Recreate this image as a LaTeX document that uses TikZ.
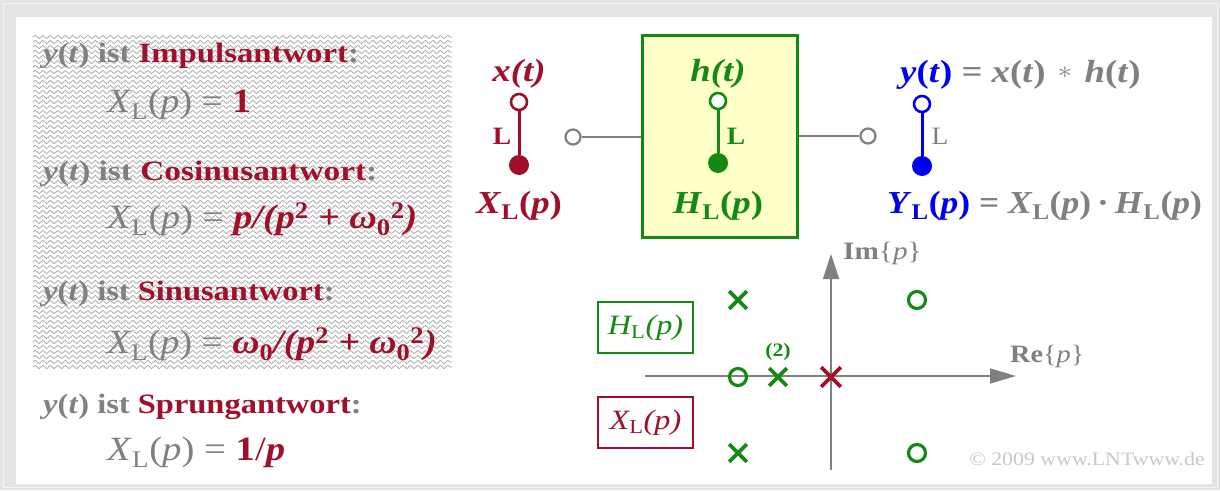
\documentclass[tikz,border=0pt]{standalone}
\usepackage{fontspec}
\setmainfont{Liberation Serif}
\usetikzlibrary{decorations.pathmorphing,arrows.meta,shapes.misc}
\definecolor{lred}{HTML}{A0102A}
\definecolor{lgray}{HTML}{808080}
\definecolor{lgreen}{HTML}{148A14}
\definecolor{lblue}{HTML}{0000F0}
\definecolor{lyellow}{HTML}{FFFFC8}
\definecolor{framegray}{HTML}{E4E4E4}
\definecolor{hatchgray}{HTML}{ACACAC}
\definecolor{copygray}{HTML}{C8C8C8}
\newcommand\fsz[1]{\fontsize{#1}{#1}\selectfont}
\newcommand\Ls{\textsubscript{\textup{L}}}
\newcommand\Zs{\textsubscript{\textup{0}}}
\newcommand\Tw{\textsuperscript{\textup{2}}}
\newcommand\hs[2]{\scalebox{#1}[1]{#2}}
\begin{document}
\begin{tikzpicture}[x=1pt,y=-1pt,
  txt/.style={anchor=base west,inner sep=0pt},
  ctxt/.style={anchor=base,inner sep=0pt},
  hatch/.style={hatchgray,line width=0.8pt,decorate,decoration={snake,segment length=7.5pt,amplitude=1.7pt}},
  ocirc/.style={circle,draw,fill=white,line width=2.6pt,minimum size=16pt,inner sep=0pt},
  fcirc/.style={circle,minimum size=20pt,inner sep=0pt},
  stem/.style={line width=3pt},
  wire/.style={lgray,line width=2.2pt},
  axis/.style={lgray,line width=1.6pt},
  xmark/.style={cross out,draw=lgreen,line width=3.6pt,minimum size=14pt,inner sep=0pt},
  omark/.style={circle,draw=lgreen,line width=3.2pt,minimum size=17pt,inner sep=0pt},
  legbox/.style={draw,line width=2pt,minimum width=95pt,minimum height=51pt,inner sep=0pt,font=\fsz{28}\itshape}
]
\useasboundingbox (0,0) rectangle (1220,490);
\fill[framegray] (0,0) rectangle (1220,490);
\draw[white!60!framegray,line width=1pt] (3,3) rectangle (1217,487);
\fill[white] (16,17) rectangle (1212,484);
% hatch
\foreach \yy in {37,42,...,367} \draw[hatch] (33,\yy) -- (452,\yy);
% left texts
\node[txt,font=\fsz{28}\bfseries] (h1) at (43,62) {\hs{1.17}{\color{lgray}\textit{y}(\textit{t}) ist \textcolor{lred}{Impulsantwort}:}};
\node[txt,font=\fsz{34}] (f1) at (107,112) {\hs{1.11}{\color{lgray}\textit{X}\Ls(\textit{p}) = \textcolor{lred}{\textbf{1}}}};
\node[txt,font=\fsz{28}\bfseries] (h2) at (43,180) {\hs{1.19}{\color{lgray}\textit{y}(\textit{t}) ist \textcolor{lred}{Cosinusantwort}:}};
\node[txt,font=\fsz{34}] (f2) at (107,228) {\hs{1.12}{\color{lgray}\textit{X}\Ls(\textit{p}) = \textcolor{lred}{\bfseries\itshape p/(p\Tw{} + ω\Zs\Tw)}}};
\node[txt,font=\fsz{28}\bfseries] (h3) at (43,300) {\hs{1.16}{\color{lgray}\textit{y}(\textit{t}) ist \textcolor{lred}{Sinusantwort}:}};
\node[txt,font=\fsz{34}] (f3) at (107,353) {\hs{1.11}{\color{lgray}\textit{X}\Ls(\textit{p}) = \textcolor{lred}{\bfseries\itshape ω\Zs/(p\Tw{} + ω\Zs\Tw)}}};
\node[txt,font=\fsz{28}\bfseries] (h4) at (43,413) {\hs{1.16}{\color{lgray}\textit{y}(\textit{t}) ist \textcolor{lred}{Sprungantwort}:}};
\node[txt,font=\fsz{34}] (f4) at (107,460) {\hs{1.14}{\color{lgray}\textit{X}\Ls(\textit{p}) = \textcolor{lred}{\textbf{1}/\textbf{\textit{p}}}}};
% input x(t)
\node[ctxt,font=\fsz{32}\bfseries\itshape,lred] (xt) at (519,81) {\hs{1.15}{x(t)}};
\node[ocirc,draw=lred] (xo) at (519,102) {};
\node[fcirc,fill=lred] (xf) at (519,165) {};
\draw[stem,lred] (xo) -- (xf);
\node[font=\fsz{25}\bfseries,lred,inner sep=0pt] (xl) at (502,136) {\hs{1.1}{L}};
\node[ctxt,font=\fsz{32}\bfseries,lred] (xL) at (519,213) {\hs{1.15}{\textit{X}\Ls(\textit{p})}};
% system box
\node[draw=lgreen,fill=lyellow,line width=3pt,minimum width=155pt,minimum height=202pt,inner sep=0pt] (box) at (719.5,136) {};
\node[ctxt,font=\fsz{32}\bfseries\itshape,lgreen] (ht) at (718,81) {\hs{1.15}{h(t)}};
\node[ocirc,draw=lgreen] (ho) at (718,101) {};
\node[fcirc,fill=lgreen] (hf) at (718,163) {};
\draw[stem,lgreen] (ho) -- (hf);
\node[font=\fsz{25}\bfseries,lgreen,inner sep=0pt] (hl) at (736,136) {\hs{1.1}{L}};
\node[ctxt,font=\fsz{32}\bfseries,lgreen] (hL) at (718,213) {\hs{1.15}{\textit{H}\Ls(\textit{p})}};
% wires
\node[ocirc,draw=lgray,line width=2.2pt,minimum size=15pt] (gi) at (573,137) {};
\node[ocirc,draw=lgray,line width=2.2pt,minimum size=15pt] (go) at (868,136) {};
\draw[wire] (gi) -- (gi -| box.west);
\draw[wire] (go -| box.east) -- (go);
% output
\node[txt,font=\fsz{32}\bfseries] (yt) at (900,82) {\hs{1.15}{\textcolor{lblue}{\textit{y}(\textit{t})}\textcolor{lgray}{\ = \textit{x}(\textit{t})\,\,\raisebox{0.12em}{\fsz{40}$\ast$}\,\,\textit{h}(\textit{t})}}};
\node[ocirc,draw=lblue] (yo) at (922,104) {};
\node[fcirc,fill=lblue] (yf) at (922,166) {};
\draw[stem,lblue] (yo) -- (yf);
\node[font=\fsz{25},lgray,inner sep=0pt] (yl) at (940,136) {\hs{1.1}{L}};
\node[txt,font=\fsz{32}\bfseries] (yL) at (887,213) {\hs{1.11}{\textcolor{lblue}{\textit{Y}\Ls(\textit{p})}\textcolor{lgray}{\ = \textit{X}\Ls(\textit{p})\,·\,\textit{H}\Ls(\textit{p})}}};
% pole-zero plane
\coordinate (hs) at (645,376);
\coordinate (he) at (1016,376);
\coordinate (vs) at (831,470);
\coordinate (ve) at (831,254);
\draw[axis,-{Triangle[length=26pt,width=15pt]}] (hs) -- (he);
\draw[axis,-{Triangle[length=25pt,width=16pt]}] (vs) -- (ve);
\node[font=\fsz{25},lgray,anchor=west,inner sep=0pt] (im) at (843,253) {\hs{1.17}{\textbf{Im}\{\textit{p}\}}};
\node[font=\fsz{25},lgray,anchor=west,inner sep=0pt] (re) at (1010,356) {\hs{1.13}{\textbf{Re}\{\textit{p}\}}};
\node[xmark] (p1) at (738,300) {};
\node[xmark] (p2) at (738,453) {};
\node[xmark] (p3) at (778,377) {};
\node[xmark,draw=lred,minimum size=16pt] (p4) at (831,377) {};
\node[omark] (z1) at (738,377) {};
\node[omark] (z2) at (917,300) {};
\node[omark] (z3) at (917,453) {};
\node[font=\fsz{19}\bfseries,lgreen,inner sep=0pt] (mult) at (778,352) {\hs{1.15}{(2)}};
\node[legbox,draw=lgreen,text=lgreen] (hleg) at (645.5,327.5) {\hs{1.15}{\textit{H}\Ls(\textit{p})}};
\node[legbox,draw=lred,text=lred] (xleg) at (645.5,422.5) {\hs{1.15}{\textit{X}\Ls(\textit{p})}};
\node[font=\fsz{19},copygray,anchor=base east,inner sep=0pt] (copy) at (1205,465) {\hs{1.15}{© 2009 www.LNTwww.de}};
\end{tikzpicture}
\end{document}
